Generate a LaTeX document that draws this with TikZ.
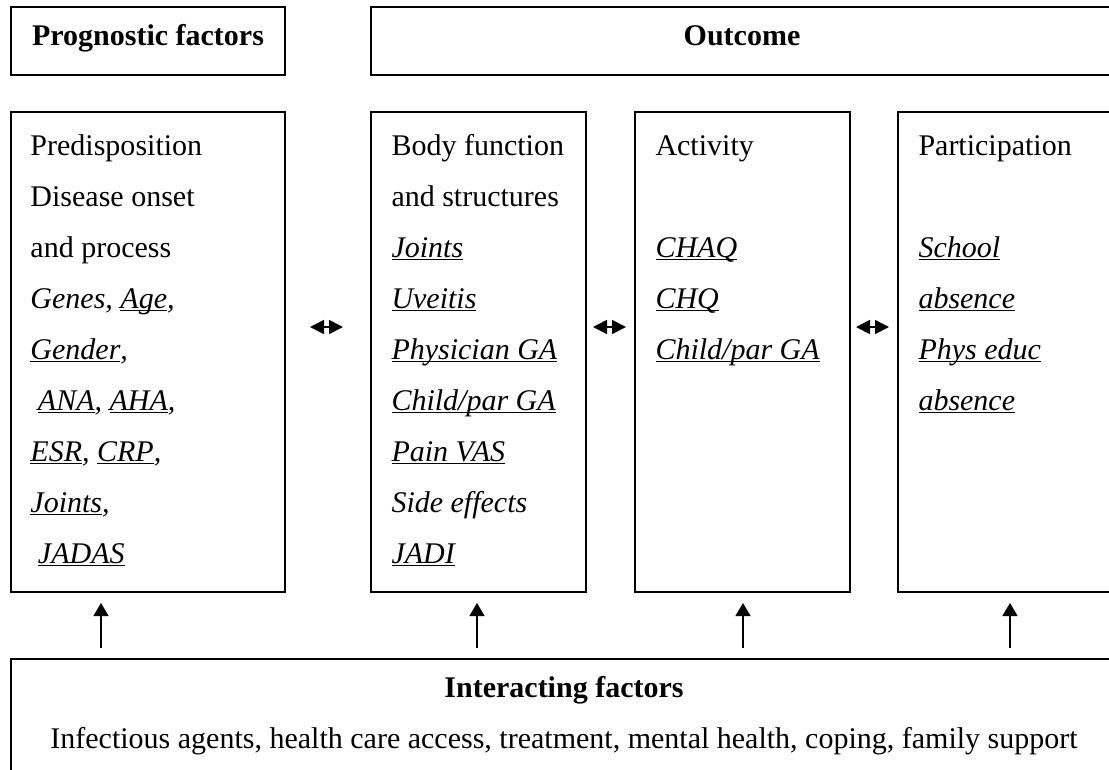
\documentclass[tikz,border=0pt]{standalone}
\usepackage{fontspec}
\setmainfont{Liberation Serif}
\usetikzlibrary{arrows.meta,fit}
\newcommand{\myul}[1]{\setbox0\hbox{#1}\rlap{\rule[-1.3pt]{\wd0}{0.65pt}}\box0}
\begin{document}
\begin{tikzpicture}[x=0.4pt,y=-0.4pt,
  box/.style={draw, line width=0.8pt, inner sep=0pt},
  txt/.style={anchor=base west, inner sep=0pt, font=\fontsize{12}{14}\selectfont},
  head/.style={anchor=base, inner sep=0pt, font=\fontsize{12}{14}\selectfont\bfseries},
  plain/.style={anchor=base, inner sep=0pt, font=\fontsize{12}{14}\selectfont},
  uparrow/.style={-{Triangle[length=5.2pt,width=6pt]}, line width=0.5pt},
  dblarrow/.style={{Triangle[length=5.6pt,width=5.6pt]}-{Triangle[length=5.6pt,width=5.6pt]}, line width=0.7pt}]
\useasboundingbox (0,0) rectangle (1109,769);
\clip (0,0) rectangle (1109,769);
% header boxes
\node[box, fit={(11,7)(285,75)}] (prog) {};
\node[box, fit={(371,7)(1115,75)}] (outc) {};
\node[head] (progt) at (148,45) {Prognostic factors};
\node[head] (outct) at (742,45) {Outcome};
% column boxes
\node[box, fit={(11,112)(285,592)}] (pre) {};
\node[box, fit={(371,112)(586,592)}] (body) {};
\node[box, fit={(635,112)(850,592)}] (act) {};
\node[box, fit={(898,112)(1118,592)}] (part) {};
% interacting box
\node[box, fit={(11,659)(1117,790)}] (inter) {};
\node[head] (intert) at (564,697) {Interacting factors};
\node[plain] (interl) at (564,748) {Infectious agents, health care access, treatment, mental health, coping, family support};
% column texts
\foreach \t [count=\i] in {{Predisposition},{Disease onset},{and process},
  {\textit{Genes, \myul{Age},}},{\textit{\myul{Gender},}},
  {\textit{\hspace*{0.25em}\myul{ANA}, \myul{AHA},}},{\textit{\myul{ESR}, \myul{CRP},}},
  {\textit{\myul{Joints},}},{\textit{\hspace*{0.25em}\myul{JADAS}}}}
  \node[txt] (pre\i) at (30,{155+51*(\i-1)}) {\t};
\foreach \t [count=\i] in {{Body function},{and structures},
  {\textit{\myul{Joints}}},{\textit{\myul{Uveitis}}},{\textit{\myul{Physician GA}}},
  {\textit{\myul{Child/par GA}}},{\textit{\myul{Pain VAS}}},{\textit{Side effects}},
  {\textit{\myul{JADI}}}}
  \node[txt] (body\i) at (391,{155+51*(\i-1)}) {\t};
\node[txt] (act1) at (655,155) {Activity};
\foreach \t [count=\i from 3] in {{\textit{\myul{CHAQ}}},{\textit{\myul{CHQ}}},{\textit{\myul{Child/par GA}}}}
  \node[txt] (act\i) at (655,{155+51*(\i-1)}) {\t};
\node[txt] (part1) at (918,155) {Participation};
\foreach \t [count=\i from 3] in {{\textit{\myul{School}}},{\textit{\myul{absence}}},{\textit{\myul{Phys educ}}},{\textit{\myul{absence}}}}
  \node[txt] (part\i) at (918,{155+51*(\i-1)}) {\t};
% double arrows
\coordinate (d1l) at (310,327); \coordinate (d1r) at (343,327);
\coordinate (d2l) at (593,327); \coordinate (d2r) at (626,327);
\coordinate (d3l) at (856,327); \coordinate (d3r) at (889,327);
\draw[dblarrow] (d1l) -- (d1r);
\draw[dblarrow] (d2l) -- (d2r);
\draw[dblarrow] (d3l) -- (d3r);
% upward arrows
\foreach \x/\n in {101/pre,477/body,743/act,1010/part}{
  \coordinate (s\n) at (\x,648);
  \coordinate (e\n) at (\x,603);
  \draw[uparrow] (s\n) -- (e\n);
}
\end{tikzpicture}
\end{document}
